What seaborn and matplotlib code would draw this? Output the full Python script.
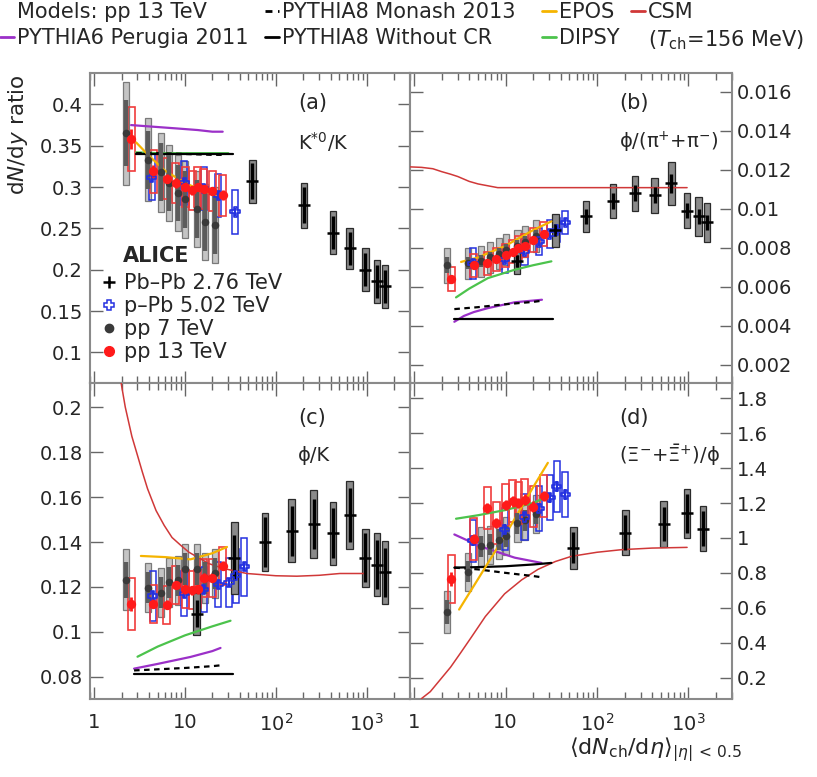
import numpy as np
import pandas as pd
import matplotlib
matplotlib.use("Agg")
import matplotlib.pyplot as plt
import seaborn as sns
from matplotlib.lines import Line2D
from matplotlib.ticker import FixedLocator, FuncFormatter, LogLocator, NullFormatter

# ---------------------------------------------------------------- data
pp13_x = [2.55, 4.50, 6.32, 7.95, 10.02, 12.04, 13.77, 16.17, 20.02, 26.02]
pp7_x = [2.26, 3.90, 5.40, 6.72, 8.45, 10.1, 13.5, 16.5, 21.3]

# (a) K*0/K
a_pbpb_x = [55, 205, 426, 649, 966, 1294, 1601]
a_pbpb_y = [0.307, 0.278, 0.245, 0.226, 0.200, 0.186, 0.180]
a_pbpb_stat = [0.022, 0.022, 0.020, 0.020, 0.020, 0.020, 0.020]
a_pbpb_sys = [0.026, 0.027, 0.026, 0.025, 0.026, 0.026, 0.026]
a_ppb_x = [4.3, 9.8, 16.1, 23.2, 35.6]
a_ppb_y = [0.312, 0.305, 0.298, 0.290, 0.270]
a_ppb_stat = [0.006, 0.005, 0.005, 0.005, 0.005]
a_ppb_sys = [0.028, 0.027, 0.026, 0.026, 0.027]
a_pp7_y = [0.365, 0.333, 0.318, 0.305, 0.293, 0.285, 0.274, 0.258, 0.254]
a_pp7_stat = [0.040, 0.035, 0.035, 0.034, 0.034, 0.034, 0.035, 0.035, 0.035]
a_pp7_sys = [0.062, 0.050, 0.048, 0.046, 0.046, 0.046, 0.046, 0.046, 0.046]
a_pp13_y = [0.358, 0.319, 0.310, 0.305, 0.300, 0.296, 0.300, 0.298, 0.295, 0.290]
a_pp13_stat = [0.012, 0.008, 0.006, 0.006, 0.005, 0.005, 0.005, 0.005, 0.005, 0.006]
a_pp13_sys = [0.039, 0.026, 0.025, 0.024, 0.024, 0.024, 0.024, 0.024, 0.024, 0.025]
a_perugia_x = [2.55, 4.5, 7.95, 13.77, 20.0, 26.0]
a_perugia_y = [0.375, 0.373, 0.371, 0.369, 0.367, 0.367]
a_nocr_x = [2.9, 5, 10, 20, 34]
a_nocr_y = [0.340, 0.340, 0.340, 0.340, 0.340]
a_monash_x = [2.9, 5, 10, 20, 26]
a_monash_y = [0.341, 0.341, 0.340, 0.339, 0.339]
a_dipsy_x = [2.9, 5, 10, 20, 30]
a_dipsy_y = [0.342, 0.341, 0.341, 0.341, 0.341]
a_epos_x = [2.9, 4, 6, 10, 16, 26]
a_epos_y = [0.354, 0.338, 0.320, 0.305, 0.295, 0.289]

# (b) phi/(pi+ + pi-)
b_pbpb_x = [13.4, 35, 76, 149, 261, 426, 649, 966, 1294, 1601]
b_pbpb_y = [0.0073, 0.0089, 0.0096, 0.0104, 0.0108, 0.0107, 0.0113, 0.0099, 0.0096, 0.0093]
b_pbpb_stat = [0.0003, 0.0003, 0.0004, 0.0004, 0.0004, 0.0004, 0.0005, 0.0004, 0.0004, 0.0004]
b_pbpb_sys = [0.00065, 0.00085, 0.0008, 0.00087, 0.0009, 0.0009, 0.0011, 0.0009, 0.0010, 0.0010]
b_ppb_x = [4.4, 9.8, 16.1, 23.2, 30.5, 36.2, 45]
b_ppb_y = [0.0072, 0.0074, 0.0078, 0.0083, 0.0087, 0.0089, 0.0093]
b_ppb_stat = [0.0002, 0.0002, 0.0002, 0.0002, 0.0002, 0.0002, 0.0002]
b_ppb_sys = [0.0008, 0.0007, 0.0007, 0.0007, 0.0007, 0.0006, 0.0006]
b_pp7_y = [0.0071, 0.0072, 0.0073, 0.0075, 0.0077, 0.0079, 0.0081, 0.0083, 0.0086]
b_pp7_stat = [0.0004, 0.0003, 0.0003, 0.0003, 0.0003, 0.0003, 0.0003, 0.0003, 0.0003]
b_pp7_sys = [0.0009, 0.0008, 0.0008, 0.0008, 0.0008, 0.0008, 0.0008, 0.0008, 0.0008]
b_pp13_y = [0.0064, 0.0071, 0.0072, 0.0074, 0.0076, 0.0078, 0.0080, 0.0081, 0.0084, 0.0087]
b_pp13_stat = [0.0002, 0.0002, 0.0002, 0.0002, 0.0002, 0.0002, 0.0002, 0.0002, 0.0002, 0.0002]
b_pp13_sys = [0.0006, 0.0006, 0.0006, 0.0006, 0.0006, 0.0006, 0.0006, 0.0006, 0.0006, 0.0006]
b_perugia_x = [2.75, 3.5, 4.5, 6.4, 12.6, 25]
b_perugia_y = [0.0042, 0.0045, 0.0047, 0.0049, 0.0052, 0.00533]
b_monash_x = [2.75, 5, 10, 20, 25]
b_monash_y = [0.00485, 0.00495, 0.0051, 0.00522, 0.00528]
b_nocr_x = [2.75, 5, 10, 20, 33]
b_nocr_y = [0.00433, 0.00433, 0.00433, 0.00433, 0.00433]
b_dipsy_x = [2.87, 4.0, 6.4, 12.6, 20, 31.7]
b_dipsy_y = [0.00545, 0.0059, 0.00644, 0.00687, 0.0071, 0.0073]
b_epos_x = [3.26, 5, 10, 20, 31.7]
b_epos_y = [0.00727, 0.0075, 0.0081, 0.0089, 0.00935]
b_csm_x = [0.85, 1.2, 1.6, 2, 2.5, 3, 4, 5, 6, 8.2, 20, 100, 968]
b_csm_y = [0.01215, 0.01212, 0.01205, 0.0119, 0.01177, 0.01165, 0.0114, 0.01127, 0.0112, 0.01108, 0.01108, 0.01108, 0.01108]

# (c) phi/K
c_pbpb_x = [13.4, 35, 76, 149, 261, 426, 649, 966, 1294, 1601]
c_pbpb_y = [0.108, 0.133, 0.140, 0.145, 0.148, 0.144, 0.152, 0.133, 0.130, 0.1265]
c_pbpb_stat = [0.006, 0.010, 0.011, 0.011, 0.011, 0.011, 0.012, 0.011, 0.011, 0.011]
c_pbpb_sys = [0.0095, 0.016, 0.013, 0.014, 0.015, 0.014, 0.015, 0.013, 0.014, 0.014]
c_ppb_x = [4.4, 9.8, 16.1, 23.2, 30.5, 36.2, 45]
c_ppb_y = [0.116, 0.117, 0.119, 0.121, 0.122, 0.125, 0.129]
c_ppb_stat = [0.002, 0.002, 0.002, 0.002, 0.002, 0.002, 0.002]
c_ppb_sys = [0.011, 0.010, 0.010, 0.010, 0.011, 0.012, 0.013]
c_pp7_y = [0.1233, 0.1197, 0.1175, 0.122, 0.123, 0.128, 0.128, 0.124, 0.126]
c_pp7_stat = [0.008, 0.007, 0.007, 0.007, 0.007, 0.007, 0.007, 0.007, 0.007]
c_pp7_sys = [0.0137, 0.011, 0.011, 0.011, 0.011, 0.011, 0.011, 0.011, 0.011]
c_pp13_y = [0.1125, 0.1125, 0.112, 0.121, 0.119, 0.1185, 0.119, 0.124, 0.124, 0.1295]
c_pp13_stat = [0.003, 0.002, 0.002, 0.002, 0.002, 0.002, 0.002, 0.002, 0.002, 0.002]
c_pp13_sys = [0.0115, 0.0085, 0.0085, 0.0085, 0.0085, 0.0085, 0.0085, 0.0085, 0.0085, 0.0085]
c_csm_x = [1.9, 2.2, 2.6, 3.0, 3.4, 3.87, 4.8, 5.9, 7.2, 9.0, 11, 13.7, 18, 26.7, 48, 100, 170, 300, 507, 955]
c_csm_y = [0.215, 0.200, 0.187, 0.1785, 0.171, 0.1637, 0.154, 0.1474, 0.142, 0.1385, 0.1355, 0.1333,
           0.1305, 0.1282, 0.126, 0.125, 0.1248, 0.1252, 0.126, 0.126]
c_epos_x = [3.27, 6, 11.5, 20, 29]
c_epos_y = [0.1338, 0.1333, 0.1323, 0.135, 0.1378]
c_dipsy_x = [3.0, 5, 10, 20, 31.7]
c_dipsy_y = [0.089, 0.0935, 0.0985, 0.1025, 0.105]
c_perugia_x = [2.75, 5, 11.5, 20, 24.6]
c_perugia_y = [0.0837, 0.0858, 0.0889, 0.0915, 0.0929]
c_monash_x = [2.75, 5, 10, 20, 25]
c_monash_y = [0.0829, 0.0834, 0.0840, 0.0848, 0.0852]
c_nocr_x = [2.75, 5, 10, 20, 34]
c_nocr_y = [0.0815, 0.0815, 0.0815, 0.0815, 0.0815]

# (d) (Xi- + Xibar+)/phi
d_pbpb_x = [55, 205, 537, 966, 1448]
d_pbpb_y = [0.945, 1.03, 1.08, 1.14, 1.053]
d_pbpb_stat = [0.09, 0.10, 0.10, 0.11, 0.10]
d_pbpb_sys = [0.12, 0.13, 0.13, 0.14, 0.13]
d_ppb_x = [4.4, 9.8, 16.1, 23.2, 30.5, 36.2, 45]
d_ppb_y = [0.985, 1.05, 1.12, 1.17, 1.23, 1.295, 1.25]
d_ppb_stat = [0.03, 0.03, 0.03, 0.03, 0.03, 0.03, 0.03]
d_ppb_sys = [0.12, 0.12, 0.13, 0.13, 0.13, 0.145, 0.13]
d_pp7_y = [0.577, 0.806, 0.952, 0.96, 0.99, 1.01, 1.085, 1.10, 1.137]
d_pp7_stat = [0.07, 0.06, 0.06, 0.06, 0.06, 0.06, 0.06, 0.06, 0.06]
d_pp7_sys = [0.12, 0.11, 0.11, 0.11, 0.11, 0.11, 0.11, 0.11, 0.11]
d_pp13_y = [0.767, 0.994, 1.17, 1.086, 1.19, 1.21, 1.20, 1.22, 1.18, 1.24]
d_pp13_stat = [0.04, 0.03, 0.03, 0.03, 0.03, 0.03, 0.03, 0.03, 0.03, 0.03]
d_pp13_sys = [0.138, 0.12, 0.12, 0.12, 0.12, 0.12, 0.12, 0.12, 0.12, 0.12]
d_csm_x = [1.2, 1.5, 1.8, 2.5, 3.2, 4.2, 6.0, 9.75, 15, 22.6, 35, 52.7, 100, 187, 400, 968]
d_csm_y = [0.08, 0.12, 0.17, 0.26, 0.34, 0.43, 0.55, 0.68, 0.76, 0.82, 0.865, 0.895, 0.918, 0.933, 0.942, 0.946]
d_epos_x = [3.1, 5, 10, 20, 29]
d_epos_y = [0.59, 0.765, 1.02, 1.29, 1.43]
d_dipsy_x = [2.87, 5, 10, 20, 26.8]
d_dipsy_y = [1.11, 1.13, 1.16, 1.20, 1.23]
d_perugia_x = [2.75, 5.4, 12.6, 24.7]
d_perugia_y = [1.02, 0.95, 0.887, 0.857]
d_nocr_x = [2.75, 5, 10, 20, 31.7]
d_nocr_y = [0.83, 0.833, 0.838, 0.848, 0.857]
d_monash_x = [2.75, 5, 10, 20, 24.7]
d_monash_y = [0.83, 0.82, 0.80, 0.782, 0.775]

x_tick_vals = [1, 10, 100, 1000]
x_tick_labels = ["1", "10", "$10^{2}$", "$10^{3}$"]

# ---------------------------------------------------------------- style
sns.set_style("ticks")
plt.rcParams["font.family"] = ["DejaVu Sans"]
plt.rcParams["mathtext.fontset"] = "dejavusans"

C_PURPLE = "#9b30c8"
C_EPOS = "#f5b400"
C_DIPSY = "#4cc34c"
C_CSM = "#d03838"
C_BLUE = "#2430e0"
C_RED = "#ff1a1a"

STY = {
    "pp7": dict(half=0.033, face="#c4c4c4", edge="#7a7a7a", blw=0.9, sc="#5c5c5c", slw=3.2,
                m="o", ms=30, mc="#3a3a3a", mfc="#3a3a3a", mlw=0.0, z=2.0),
    "ppb": dict(half=0.033, face="none", edge=C_BLUE, blw=1.1, sc=C_BLUE, slw=1.5,
                m="P", ms=45, mc=C_BLUE, mfc="none", mlw=1.2, z=2.1),
    "pp13": dict(half=0.038, face="none", edge="#f03c3c", blw=1.2, sc=C_RED, slw=2.0,
                 m="o", ms=45, mc=C_RED, mfc=C_RED, mlw=0.0, z=2.2),
    "pbpb": dict(half=0.036, face="#8a8a8a", edge="#2a2a2a", blw=0.9, sc="black", slw=2.4,
                 m="+", ms=70, mc="black", mfc="black", mlw=1.8, z=2.3),
}


def draw_data(ax, x, y, stat, sys_, key):
    s = STY[key]
    x = np.asarray(x, float)
    y = np.asarray(y, float)
    sy = np.asarray(sys_, float)
    f = 10 ** s["half"]
    ax.bar(x / f, 2 * sy, bottom=y - sy, width=x * f - x / f, align="edge",
           facecolor=s["face"], edgecolor=s["edge"], linewidth=s["blw"], zorder=s["z"])
    ax.errorbar(x, y, yerr=np.asarray(stat, float), fmt="none", ecolor=s["sc"],
                elinewidth=s["slw"], capsize=0, zorder=s["z"] + 2)
    if s["m"] == "+":
        sns.scatterplot(x=x, y=y, ax=ax, marker="+", s=s["ms"], color=s["mc"],
                        linewidth=s["mlw"], zorder=s["z"] + 3, legend=False)
    else:
        sns.scatterplot(x=x, y=y, ax=ax, marker=s["m"], s=s["ms"], facecolor=s["mfc"],
                        edgecolor=s["mc"], linewidth=s["mlw"], zorder=s["z"] + 3, legend=False)


def draw_model(ax, x, y, color, lw=1.6, ls="-"):
    df = pd.DataFrame({"x": x, "y": y})
    sns.lineplot(data=df, x="x", y="y", ax=ax, color=color, linewidth=lw,
                 linestyle=ls, estimator=None, sort=False, zorder=3)


def setup(ax, ylim, yticks, left, bottom):
    ax.set_xlim(0.9, 3000)
    ax.set_ylim(*ylim)
    ax.xaxis.set_major_locator(FixedLocator(x_tick_vals))
    ax.xaxis.set_major_formatter(FuncFormatter(
        lambda v, p: x_tick_labels[x_tick_vals.index(int(round(v)))] if int(round(v)) in x_tick_vals else ""))
    ax.xaxis.set_minor_locator(LogLocator(base=10, subs=np.arange(2, 10), numticks=20))
    ax.xaxis.set_minor_formatter(NullFormatter())
    ax.yaxis.set_major_locator(FixedLocator(yticks))
    ax.yaxis.set_major_formatter(FuncFormatter(lambda v, p: f"{v:g}"))
    ax.tick_params(which="both", direction="in", top=True, bottom=True, left=True, right=True,
                   color="#666666", width=1.0)
    ax.tick_params(which="major", length=9)
    ax.tick_params(which="minor", length=5)
    ax.tick_params(axis="x", labelbottom=bottom, labeltop=False, labelsize=14, pad=10)
    ax.tick_params(axis="y", labelleft=left, labelright=not left, labelsize=14,
                   pad=5 if left else 3.5)
    ax.set_xlabel("")
    ax.set_ylabel("")
    for sp in ax.spines.values():
        sp.set_color("#8a8a8a")
        sp.set_linewidth(1.5)


# ---------------------------------------------------------------- figure
fig = plt.figure(figsize=(8.17, 7.77), dpi=100)
L, R, XM = 90 / 817, 732 / 817, 410 / 817
T, B, YM = 1 - 73 / 777, 1 - 699 / 777, 1 - 383 / 777
ax_a = fig.add_axes([L, YM, XM - L, T - YM])
ax_b = fig.add_axes([XM, YM, R - XM, T - YM])
ax_c = fig.add_axes([L, B, XM - L, YM - B])
ax_d = fig.add_axes([XM, B, R - XM, YM - B])
for ax in (ax_a, ax_b, ax_c, ax_d):
    ax.set_xscale("log")

# (a)
draw_data(ax_a, pp7_x, a_pp7_y, a_pp7_stat, a_pp7_sys, "pp7")
draw_data(ax_a, a_ppb_x, a_ppb_y, a_ppb_stat, a_ppb_sys, "ppb")
draw_data(ax_a, pp13_x, a_pp13_y, a_pp13_stat, a_pp13_sys, "pp13")
draw_data(ax_a, a_pbpb_x, a_pbpb_y, a_pbpb_stat, a_pbpb_sys, "pbpb")
draw_model(ax_a, a_perugia_x, a_perugia_y, C_PURPLE)
draw_model(ax_a, a_dipsy_x, a_dipsy_y, C_DIPSY)
draw_model(ax_a, a_nocr_x, a_nocr_y, "black")
draw_model(ax_a, a_monash_x, a_monash_y, "black", ls=(0, (2.5, 2)))
draw_model(ax_a, a_epos_x, a_epos_y, C_EPOS)

# (b)
draw_data(ax_b, pp7_x, b_pp7_y, b_pp7_stat, b_pp7_sys, "pp7")
draw_data(ax_b, b_ppb_x, b_ppb_y, b_ppb_stat, b_ppb_sys, "ppb")
draw_data(ax_b, pp13_x, b_pp13_y, b_pp13_stat, b_pp13_sys, "pp13")
draw_data(ax_b, b_pbpb_x, b_pbpb_y, b_pbpb_stat, b_pbpb_sys, "pbpb")
draw_model(ax_b, b_csm_x, b_csm_y, C_CSM, lw=1.1)
draw_model(ax_b, b_perugia_x, b_perugia_y, C_PURPLE)
draw_model(ax_b, b_nocr_x, b_nocr_y, "black")
draw_model(ax_b, b_monash_x, b_monash_y, "black", ls=(0, (2.5, 2)))
draw_model(ax_b, b_dipsy_x, b_dipsy_y, C_DIPSY)
draw_model(ax_b, b_epos_x, b_epos_y, C_EPOS)

# (c)
draw_data(ax_c, pp7_x, c_pp7_y, c_pp7_stat, c_pp7_sys, "pp7")
draw_data(ax_c, c_ppb_x, c_ppb_y, c_ppb_stat, c_ppb_sys, "ppb")
draw_data(ax_c, pp13_x, c_pp13_y, c_pp13_stat, c_pp13_sys, "pp13")
draw_data(ax_c, c_pbpb_x, c_pbpb_y, c_pbpb_stat, c_pbpb_sys, "pbpb")
draw_model(ax_c, c_csm_x, c_csm_y, C_CSM, lw=1.1)
draw_model(ax_c, c_perugia_x, c_perugia_y, C_PURPLE)
draw_model(ax_c, c_nocr_x, c_nocr_y, "black")
draw_model(ax_c, c_monash_x, c_monash_y, "black", ls=(0, (2.5, 2)))
draw_model(ax_c, c_dipsy_x, c_dipsy_y, C_DIPSY)
draw_model(ax_c, c_epos_x, c_epos_y, C_EPOS)

# (d)
draw_data(ax_d, pp7_x, d_pp7_y, d_pp7_stat, d_pp7_sys, "pp7")
draw_data(ax_d, d_ppb_x, d_ppb_y, d_ppb_stat, d_ppb_sys, "ppb")
draw_data(ax_d, pp13_x, d_pp13_y, d_pp13_stat, d_pp13_sys, "pp13")
draw_data(ax_d, d_pbpb_x, d_pbpb_y, d_pbpb_stat, d_pbpb_sys, "pbpb")
draw_model(ax_d, d_csm_x, d_csm_y, C_CSM, lw=1.1)
draw_model(ax_d, d_perugia_x, d_perugia_y, C_PURPLE)
draw_model(ax_d, d_nocr_x, d_nocr_y, "black")
draw_model(ax_d, d_monash_x, d_monash_y, "black", ls=(0, (2.5, 2)))
draw_model(ax_d, d_dipsy_x, d_dipsy_y, C_DIPSY)
draw_model(ax_d, d_epos_x, d_epos_y, C_EPOS)

setup(ax_a, (0.063, 0.438), [0.1, 0.15, 0.2, 0.25, 0.3, 0.35, 0.4], True, False)
setup(ax_b, (0.00106, 0.01696), [0.002, 0.004, 0.006, 0.008, 0.010, 0.012, 0.014, 0.016], False, False)
setup(ax_c, (0.0702, 0.2107), [0.08, 0.1, 0.12, 0.14, 0.16, 0.18, 0.2], True, True)
setup(ax_d, (0.078, 1.887), [0.2, 0.4, 0.6, 0.8, 1.0, 1.2, 1.4, 1.6, 1.8], False, True)

# panel labels
for ax, lab, ratio in [(ax_a, "(a)", "K$^{*0}$/K"),
                       (ax_b, "(b)", "\u03d5/(\u03c0$^{+}$+\u03c0$^{-}$)"),
                       (ax_c, "(c)", "\u03d5/K"),
                       (ax_d, "(d)", "(\u039e$^{-}$+$\\bar{\\Xi}^{+}$)/\u03d5")]:
    top = ax in (ax_a, ax_b)
    ax.text(0.65, 0.903 if top else 0.889, lab, transform=ax.transAxes, fontsize=15,
            ha="left", va="center")
    ax.text(0.65, 0.777 if top else 0.772, ratio, transform=ax.transAxes, fontsize=14,
            ha="left", va="center")

# ALICE legend in (a)
ax_a.text(0.103, 0.41, "ALICE", transform=ax_a.transAxes, fontsize=15,
          fontweight="bold", ha="left", va="center")
h_alice = [
    Line2D([], [], marker="+", color="black", ls="none", markersize=8, mew=1.8),
    Line2D([], [], marker="P", color=C_BLUE, mfc="none", ls="none", markersize=7, mew=1.1),
    Line2D([], [], marker="o", color="#3a3a3a", ls="none", markersize=6),
    Line2D([], [], marker="o", color=C_RED, ls="none", markersize=7),
]
ax_a.legend(h_alice, ["Pb\u2013Pb 2.76 TeV", "p\u2013Pb 5.02 TeV", "pp 7 TeV", "pp 13 TeV"],
            loc="upper left", bbox_to_anchor=(0.027, 0.355), frameon=False, fontsize=15,
            handlelength=1.0, handletextpad=0.2, labelspacing=0.15, borderpad=0,
            borderaxespad=0)

# header legends
blank = Line2D([], [], color="none")
cols = [
    (0, [blank, Line2D([], [], color=C_PURPLE, lw=2)],
     ["Models: pp 13 TeV", "PYTHIA6 Perugia 2011"]),
    (265, [Line2D([], [], color="black", lw=2, ls=(0, (2.5, 2))), Line2D([], [], color="black", lw=2)],
     ["PYTHIA8 Monash 2013", "PYTHIA8 Without CR"]),
    (542, [Line2D([], [], color=C_EPOS, lw=2), Line2D([], [], color=C_DIPSY, lw=2)],
     ["EPOS", "DIPSY"]),
    (631, [Line2D([], [], color=C_CSM, lw=2), blank],
     ["CSM", r"($T_{\mathrm{ch}}$=156 MeV)"]),
]
for xp, hs, ls_ in cols:
    fig.legend(hs, ls_, loc="upper left", bbox_to_anchor=(xp / 817, 1 - 2 / 777),
               frameon=False, fontsize=15, handlelength=0.65, handletextpad=0.15,
               labelspacing=0.3, borderpad=0, borderaxespad=0)

# axis titles
fig.text(18 / 817, 1 - 74 / 777, r"d$N$/d$y$ ratio", rotation=90, fontsize=15.5,
         ha="center", va="top")
fig.text(742 / 817, 1 - 736 / 777, r"$\langle\mathrm{d}N_{\mathrm{ch}}/\mathrm{d}\eta\rangle_{|\eta|\,<\,0.5}$",
         fontsize=16, ha="right", va="top")

fig.savefig("out.png", dpi=100)
